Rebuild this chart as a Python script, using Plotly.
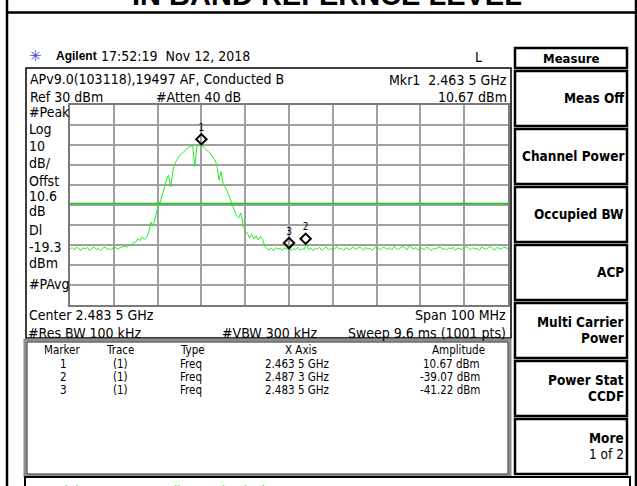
import numpy as np
import plotly.graph_objects as go

# ---------------- data ----------------
CENTER_GHZ = 2.4835
SPAN_GHZ = 0.1
REF_LEVEL_DBM = 30
DB_PER_DIV = 10
DISPLAY_LINE_DBM = -19.3

TRACE_DBM = [
    -42.1, -41.3, -42.5, -41.0, -41.9, -42.6, -41.4, -42.0, -41.2, -42.8,
    -41.6, -41.1, -42.3, -41.7, -42.9, -41.5, -41.0, -42.2, -41.8, -42.4,
    -40.9, -41.6, -42.0, -41.3, -40.8, -40.6, -41.2, -39.8, -40.3, -38.9,
    -38.6, -36.9, -37.8, -35.9, -37.2, -36.1, -33.5, -28.5, -30.5, -26.0,
    -21.5, -19.0, -16.0, -12.0, -7.5, -5.0, -11.0, -3.0, 1.0, 3.0,
    4.8, 5.6, 7.0, 7.8, 8.6, 9.2, 9.8, -0.8, 9.4, 10.1,
    10.67, 8.9, 7.6, 6.8, 5.9, 4.4, 2.8, 0.2, -7.5, -3.3,
    -10.0, -11.0, -13.5, -16.5, -19.5, -22.5, -25.5, -26.5, -24.0, -29.5,
    -33.3, -34.0, -36.5, -34.6, -37.0, -35.4, -37.5, -35.8, -37.2, -40.8,
    -41.9, -42.4, -41.6, -42.8, -41.3, -42.0, -41.7, -42.6, -41.4, -42.2,
    -41.22, -42.7, -41.8, -42.3, -41.1, -42.5, -41.9, -42.1, -39.3, -42.4,
    -41.6, -42.9, -41.5, -42.0, -41.2, -42.6, -41.8, -41.0, -42.3, -41.7,
    -42.5, -41.4, -40.8, -42.1, -41.6, -42.7, -41.3, -41.9, -42.4, -41.1,
    -41.8, -42.2, -40.9, -41.5, -42.6, -41.2, -42.0, -41.7, -42.8, -41.4,
    -40.7, -41.9, -42.3, -41.0, -41.6, -42.1, -41.3, -42.5, -40.6, -41.8,
    -42.2, -41.1, -40.5, -41.7, -42.4, -39.8, -41.5, -42.0, -41.2, -42.6,
    -41.4, -41.9, -42.3, -41.0, -41.7, -42.8, -41.6, -42.1, -41.3, -40.9,
    -42.2, -41.8, -42.5, -41.4, -42.0, -41.1, -42.7, -41.5, -41.9, -42.3,
    -41.2, -40.8, -41.6, -42.4, -41.3, -42.0, -41.7, -42.6, -41.0, -41.8,
    -42.2, -41.4, -40.7, -41.9, -42.5, -41.2, -41.6, -42.1, -40.9, -41.5,
    -41.8,
]

MKR_NUM = ["1", "2", "3"]
MKR_FREQ_GHZ = [2.4635, 2.4873, 2.4835]
MKR_AMP_DBM = [10.67, -39.07, -41.22]
MKR_FREQ_TXT = ["2.463 5 GHz", "2.487 3 GHz", "2.483 5 GHz"]
MKR_AMP_TXT = ["10.67 dBm", "-39.07 dBm", "-41.22 dBm"]

SOFTKEYS = [["Meas Off"], ["Channel Power"], ["Occupied BW"], ["ACP"],
            ["Multi Carrier", "Power"], ["Power Stat", "CCDF"], ["More", "1 of 2"]]

LEFT_LABELS = ["#Peak", "Log", "10", "dB/", "Offst", "10.6", "dB", "Dl", "-19.3", "dBm", "#PAvg"]
LEFT_LABEL_Y = [112, 129, 146, 163, 181, 196, 211, 230, 247, 263, 284]

# ---------------- layout geometry (pixels) ----------------
W, H = 637, 486
ML, MR, MT, MB = 70, 129, 105, 181
PW, PH = W - ML - MR, H - MT - MB

def px(x):
    return (x - ML) / PW

def py(y):
    return 1 - (y - MT) / PH

FONT = "DejaVu Sans Condensed, Liberation Sans Narrow, DejaVu Sans, sans-serif"
ARIAL = "Liberation Sans, Arial, sans-serif"

start = CENTER_GHZ - SPAN_GHZ / 2
stop = CENTER_GHZ + SPAN_GHZ / 2
freqs = np.linspace(start, stop, len(TRACE_DBM))

fig = go.Figure()
fig.add_trace(go.Scatter(x=freqs, y=TRACE_DBM, mode="lines",
                         line=dict(color="#22ee22", width=1), hoverinfo="skip"))
fig.add_trace(go.Scatter(
    x=MKR_FREQ_GHZ, y=[a + 2.2 for a in MKR_AMP_DBM], mode="markers+text",
    text=MKR_NUM, textposition="top center",
    textfont=dict(size=10, color="black", family=FONT),
    marker=dict(symbol="diamond-open", size=8, color="black", line=dict(width=2, color="black")),
    cliponaxis=False, hoverinfo="skip"))

shapes = []
ann = []

def rect(x0, y0, x1, y1, color="black", width=1.5, fill=None):
    shapes.append(dict(type="rect", xref="paper", yref="paper",
                       x0=px(x0), x1=px(x1), y0=py(y0), y1=py(y1),
                       line=dict(color=color, width=width),
                       fillcolor=fill if fill else "rgba(0,0,0,0)", layer="above"))

def line(x0, y0, x1, y1, color="black", width=2):
    shapes.append(dict(type="line", xref="paper", yref="paper",
                       x0=px(x0), x1=px(x1), y0=py(y0), y1=py(y1),
                       line=dict(color=color, width=width)))

def txt(s, x, y, anchor="left", size=14, color="black", family=FONT):
    ann.append(dict(text=s, x=px(x), y=py(y), xref="paper", yref="paper",
                    xanchor=anchor, yanchor="middle", showarrow=False,
                    font=dict(size=size, color=color, family=family), borderpad=0))

# display line
shapes.append(dict(type="line", xref="paper", yref="y", x0=0, x1=1,
                   y0=DISPLAY_LINE_DBM, y1=DISPLAY_LINE_DBM,
                   line=dict(color="#11cc11", width=1.5), layer="above"))

# outer frame
line(7, -5, 7, 492, width=2.5)
line(636, -5, 636, 492, width=2.5)
line(7, 12.5, 640, 12.5, width=2.5)

# title
txt("<b>IN BAND REFERNCE LEVEL</b>", 327, -5, anchor="center", size=29, family=ARIAL)

# status row
txt("✳", 35, 56, anchor="center", size=15, color="#4848e0", family="DejaVu Sans")
txt("<b>Agilent</b>", 55, 56, size=12, family=ARIAL)
txt("17:52:19  Nov 12, 2018", 100, 56)
txt("L", 478, 57, anchor="center")

# header box
rect(26, 68, 511, 338, width=1.5)
txt("APv9.0(103118),19497 AF, Conducted B", 29, 79)
txt("Mkr1  2.463 5 GHz", 508, 80, anchor="right")
txt("Ref 30 dBm", 29, 97)
txt("#Atten 40 dB", 155, 97)
txt("10.67 dBm", 508, 97, anchor="right")
for s, yy in zip(LEFT_LABELS, LEFT_LABEL_Y):
    txt(s, 28, yy)

txt("Center 2.483 5 GHz", 28, 315)
txt("Span 100 MHz", 507, 315, anchor="right")
txt("#Res BW 100 kHz", 27, 333)
txt("#VBW 300 kHz", 221, 333)
txt("Sweep 9.6 ms (1001 pts)", 507, 333, anchor="right")

# marker table
rect(25, 340, 510, 476, color="#8c8c8c", width=3)
rect(27, 342, 508, 474, color="#202020", width=1)
TS = 11.5
txt("Marker", 62, 350, anchor="center", size=TS)
txt("Trace", 120, 350, anchor="center", size=TS)
txt("Type", 179, 350, size=TS)
txt("X Axis", 301, 350, anchor="center", size=TS)
txt("Amplitude", 458, 350, anchor="center", size=TS)
for k in range(len(MKR_NUM)):
    yy = 363.5 + 13 * k
    txt(MKR_NUM[k], 63, yy, anchor="center", size=TS)
    txt("(1)", 120, yy, anchor="center", size=TS)
    txt("Freq", 179, yy, size=TS)
    txt(MKR_FREQ_TXT[k], 297, yy, anchor="center", size=TS)
    txt(MKR_AMP_TXT[k], 481, yy, anchor="right", size=TS)

# copyright
rect(25, 477, 630, 495, width=2)
txt("Copyright 2000-2011 Agilent Technologies", 29, 490, size=13, color="#22dd22")

# softkeys
rect(515, 48, 627, 68, width=2.5)
txt("<b>Measure</b>", 571, 58, anchor="center", size=13)
for k, lab in enumerate(SOFTKEYS):
    top = 71 + 58 * k
    rect(515, top, 627, top + 55, width=2.5)
    if len(lab) == 1:
        txt("<b>%s</b>" % lab[0], 625, top + 27, anchor="right", size=13.5)
    else:
        txt("<b>%s</b>" % lab[0], 625, top + 19, anchor="right", size=13.5)
        if lab[1] == "1 of 2":
            txt(lab[1], 625, top + 35, anchor="right", size=13.5)
        else:
            txt("<b>%s</b>" % lab[1], 625, top + 35, anchor="right", size=13.5)

fig.update_layout(
    width=W, height=H, margin=dict(l=ML, r=MR, t=MT, b=MB, pad=0),
    paper_bgcolor="white", plot_bgcolor="white", showlegend=False,
    shapes=shapes, annotations=ann,
    xaxis=dict(range=[start, stop], tick0=start, dtick=SPAN_GHZ / 10,
               showticklabels=False, ticks="", showgrid=True,
               gridcolor="#a0a0a0", gridwidth=1.5, zeroline=False,
               showline=True, mirror=True, linecolor="#7a7a7a", linewidth=2),
    yaxis=dict(range=[REF_LEVEL_DBM - 10 * DB_PER_DIV, REF_LEVEL_DBM],
               tick0=REF_LEVEL_DBM, dtick=DB_PER_DIV,
               showticklabels=False, ticks="", showgrid=True,
               gridcolor="#a0a0a0", gridwidth=1.5, zeroline=False,
               showline=True, mirror=True, linecolor="#7a7a7a", linewidth=2),
)

fig.write_html("out.html", config={"displayModeBar": False},
               post_script="document.body.style.margin='0px';document.body.style.overflow='hidden';")
